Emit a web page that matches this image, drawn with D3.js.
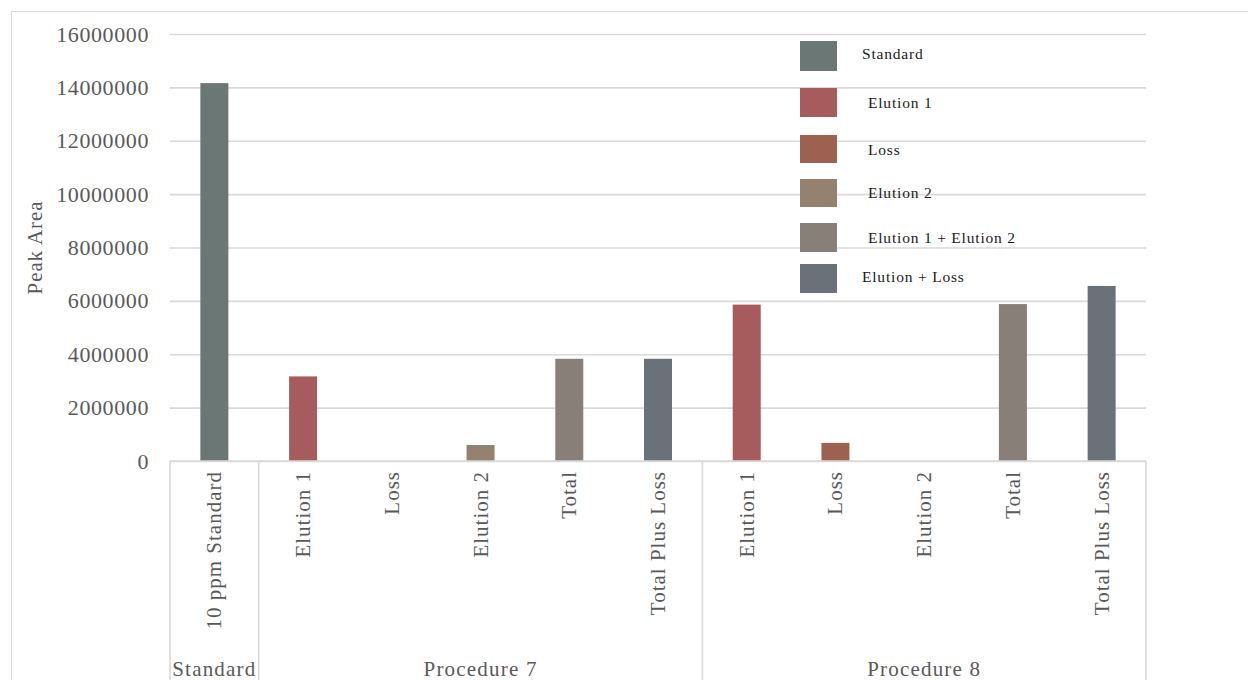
<!DOCTYPE html>
<html>
<head>
<meta charset="utf-8">
<script src="https://cdn.jsdelivr.net/npm/d3@7"></script>
<style>
  html, body { margin: 0; padding: 0; background: #fff; }
  svg { display: block; font-family: "Liberation Serif", "DejaVu Serif", serif; }
</style>
</head>
<body>
<svg id="chart" width="1248" height="680"></svg>
<script>
// Peak area per sample, grouped by procedure
const categories = ["10 ppm Standard", "Elution 1", "Loss", "Elution 2", "Total", "Total Plus Loss",
                    "Elution 1", "Loss", "Elution 2", "Total", "Total Plus Loss"];
const groups = ["Standard", "Procedure 7", "Procedure 7", "Procedure 7", "Procedure 7", "Procedure 7",
                "Procedure 8", "Procedure 8", "Procedure 8", "Procedure 8", "Procedure 8"];
const values = [14160000, 3170000, 0, 600000, 3830000, 3830000,
                5860000, 680000, 0, 5880000, 6560000];
// Legend series that each bar belongs to
const seriesNames = ["Standard", "Elution 1", "Loss", "Elution 2", "Elution 1 + Elution 2", "Elution + Loss"];
const seriesColors = ["#6a7774", "#a65c5c", "#9c6150", "#95816f", "#877f78", "#6b7179"];
const barSeries = [0, 1, 2, 3, 4, 5, 1, 2, 3, 4, 5];
const yTicks = [0, 2000000, 4000000, 6000000, 8000000, 10000000, 12000000, 14000000, 16000000];

const svg = d3.select("#chart");
const textColor = "#595959";
const lineColor = "#d9d9d9";

// chart frame
svg.append("path")
  .attr("d", "M11.5,690 V11.5 H1260")
  .attr("fill", "none").attr("stroke", lineColor).attr("stroke-width", 1.2);

const plot = { left: 170, right: 1146, top: 34, bottom: 461 };

const x = d3.scaleBand()
  .domain(d3.range(categories.length))
  .range([plot.left, plot.right])
  .paddingInner(0).paddingOuter(0);

const y = d3.scaleLinear().domain([0, 16000000]).range([plot.bottom, plot.top]);

// gridlines + tick labels
const yAxis = d3.axisLeft(y).tickValues(yTicks).tickFormat(d3.format("d"))
  .tickSize(-(plot.right - plot.left)).tickPadding(21);
const gy = svg.append("g").attr("transform", `translate(${plot.left},0)`).call(yAxis);
gy.select(".domain").remove();
gy.selectAll(".tick line").attr("stroke", lineColor).attr("stroke-width", 1.6);
gy.selectAll(".tick text")
  .attr("fill", textColor).attr("font-size", 22)
  .attr("letter-spacing", 0.6)
  .attr("font-family", "Liberation Serif, serif");

// y axis title
svg.append("text")
  .attr("transform", `translate(42,${(plot.top + plot.bottom) / 2}) rotate(-90)`)
  .attr("text-anchor", "middle")
  .attr("fill", textColor).attr("font-size", 21)
  .attr("letter-spacing", 0.9)
  .text("Peak Area");

// bars
const barW = 28;
svg.append("g").selectAll("rect")
  .data(values)
  .join("rect")
  .attr("x", (d, i) => x(i) + x.bandwidth() / 2 - barW / 2)
  .attr("width", barW)
  .attr("y", d => y(d))
  .attr("height", d => y(0) - y(d))
  .attr("fill", (d, i) => seriesColors[barSeries[i]]);

// x axis line
svg.append("line")
  .attr("x1", plot.left).attr("x2", plot.right)
  .attr("y1", plot.bottom).attr("y2", plot.bottom)
  .attr("stroke", lineColor).attr("stroke-width", 1.6);

// category labels (rotated)
svg.append("g").selectAll("text")
  .data(categories)
  .join("text")
  .attr("transform", (d, i) => `translate(${x(i) + x.bandwidth() / 2 + 7},${plot.bottom + 10}) rotate(-90)`)
  .attr("text-anchor", "end")
  .attr("fill", textColor).attr("font-size", 21)
  .attr("letter-spacing", 1)
  .text(d => d);

// group spans and separators
const groupSpans = [];
groups.forEach((g, i) => {
  const last = groupSpans[groupSpans.length - 1];
  if (last && last.name === g) last.end = i;
  else groupSpans.push({ name: g, start: i, end: i });
});
const sepXs = [plot.left].concat(groupSpans.map(s => x(s.end) + x.bandwidth()));
svg.append("g").selectAll("line")
  .data(sepXs)
  .join("line")
  .attr("x1", d => d).attr("x2", d => d)
  .attr("y1", plot.bottom).attr("y2", 690)
  .attr("stroke", lineColor).attr("stroke-width", 1.6);

svg.append("g").selectAll("text")
  .data(groupSpans)
  .join("text")
  .attr("x", s => (x(s.start) + x(s.end) + x.bandwidth()) / 2)
  .attr("y", 676)
  .attr("text-anchor", "middle")
  .attr("fill", textColor).attr("font-size", 21)
  .attr("letter-spacing", 1.2)
  .text(s => s.name);

// legend
const legendRows = [
  { sy: 41, h: 30, ty: 59, tx: 862 },
  { sy: 88, h: 29, ty: 108, tx: 868 },
  { sy: 135, h: 28, ty: 155, tx: 868 },
  { sy: 179, h: 28, ty: 198, tx: 868 },
  { sy: 223, h: 29, ty: 243, tx: 868 },
  { sy: 264, h: 29, ty: 282, tx: 862 }
];
const legend = svg.append("g");
legend.selectAll("rect")
  .data(seriesNames)
  .join("rect")
  .attr("x", 800).attr("width", 37)
  .attr("y", (d, i) => legendRows[i].sy)
  .attr("height", (d, i) => legendRows[i].h)
  .attr("fill", (d, i) => seriesColors[i]);
legend.selectAll("text")
  .data(seriesNames)
  .join("text")
  .attr("x", (d, i) => legendRows[i].tx)
  .attr("y", (d, i) => legendRows[i].ty)
  .attr("fill", "#1a1a1a").attr("font-size", 15.5)
  .attr("letter-spacing", 0.8)
  .text(d => d);
</script>
</body>
</html>
